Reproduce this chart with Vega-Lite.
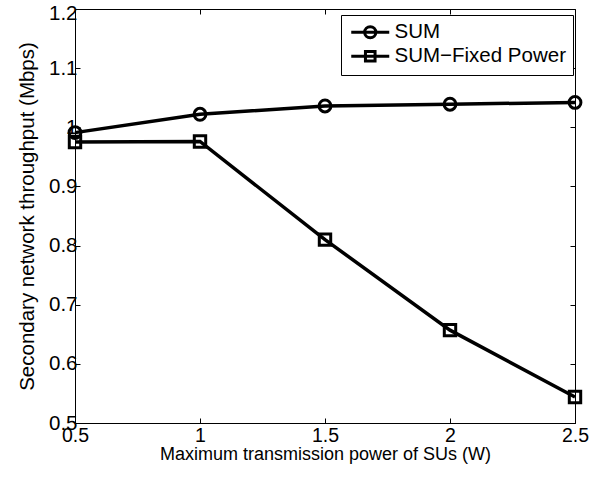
{
  "$schema": "https://vega.github.io/schema/vega-lite/v6.json",
  "width": 500,
  "height": 414,
  "autosize": "none",
  "padding": {"left": 75, "top": 9, "right": 30, "bottom": 55},
  "background": "white",
  "config": {
    "font": "Liberation Sans",
    "view": {"stroke": "black", "strokeWidth": 1},
    "axis": {"grid": false, "domainColor": "black", "tickColor": "black", "labelColor": "black", "titleColor": "black", "labelFont": "Liberation Sans", "titleFont": "Liberation Sans", "titleFontWeight": "normal", "labelFontSize": 18, "titleFontSize": 18, "tickSize": -5, "tickWidth": 1, "domainWidth": 1}
  },
  "data": {"values": [
    {"x": 0.5, "y": 0.991, "series": "SUM"},
    {"x": 1.0, "y": 1.022, "series": "SUM"},
    {"x": 1.5, "y": 1.036, "series": "SUM"},
    {"x": 2.0, "y": 1.039, "series": "SUM"},
    {"x": 2.5, "y": 1.042, "series": "SUM"},
    {"x": 0.5, "y": 0.975, "series": "SUM−Fixed Power"},
    {"x": 1.0, "y": 0.976, "series": "SUM−Fixed Power"},
    {"x": 1.5, "y": 0.810, "series": "SUM−Fixed Power"},
    {"x": 2.0, "y": 0.657, "series": "SUM−Fixed Power"},
    {"x": 2.5, "y": 0.544, "series": "SUM−Fixed Power"}
  ]},
  "resolve": {"axis": {"x": "independent", "y": "independent"}},
  "layer": [
    {
      "mark": {"type": "line", "color": "black", "strokeWidth": 3.5},
      "encoding": {
        "x": {"field": "x", "type": "quantitative", "scale": {"domain": [0.5, 2.5], "nice": false, "zero": false},
              "axis": {"orient": "bottom", "values": [0.5, 1, 1.5, 2, 2.5], "format": "~g", "labelFontSize": 19.5, "labelPadding": 8, "title": "Maximum transmission power of SUs (W)", "titlePadding": 1, "labelFlush": false}},
        "y": {"field": "y", "type": "quantitative", "scale": {"domain": [0.5, 1.2], "nice": false, "zero": false},
              "axis": {"orient": "left", "values": [0.5, 0.6, 0.7, 0.8, 0.9, 1.0, 1.1, 1.2], "format": "~g", "labelFontSize": 20.5, "labelPadding": 3,
                       "labelOffset": {"condition": {"test": "datum.value > 1.15", "value": 4}, "value": 0},
                       "title": "Secondary network throughput (Mbps)", "titlePadding": 11, "titleFontSize": 20.5, "labelFlush": false}},
        "detail": {"field": "series", "type": "nominal"}
      }
    },
    {
      "transform": [{"filter": "datum.series === 'SUM'"}],
      "mark": {"type": "point", "shape": "circle", "filled": false, "color": "black", "strokeWidth": 3, "size": 140, "opacity": 1},
      "encoding": {
        "x": {"field": "x", "type": "quantitative", "axis": {"orient": "top", "values": [0.5, 1, 1.5, 2, 2.5], "labels": false, "title": null, "domain": false}},
        "y": {"field": "y", "type": "quantitative", "axis": {"orient": "right", "values": [0.5, 0.6, 0.7, 0.8, 0.9, 1.0, 1.1, 1.2], "labels": false, "title": null, "domain": false}}
      }
    },
    {
      "transform": [{"filter": "datum.series !== 'SUM'"}],
      "mark": {"type": "point", "shape": "square", "filled": false, "color": "black", "strokeWidth": 3, "size": 130, "opacity": 1},
      "encoding": {
        "x": {"field": "x", "type": "quantitative", "axis": null},
        "y": {"field": "y", "type": "quantitative", "axis": null}
      }
    },
    {
      "mark": {"type": "point", "filled": false, "color": "black", "strokeWidth": 3, "opacity": 0},
      "encoding": {
        "x": {"field": "x", "type": "quantitative", "axis": null},
        "y": {"field": "y", "type": "quantitative", "axis": null},
        "shape": {"field": "series", "type": "nominal",
          "scale": {"range": ["M-2.375,0H2.375M-0.7,0A0.7,0.7,0,1,0,0.7,0A0.7,0.7,0,1,0,-0.7,0", "M-2.375,0H2.375M-0.6,-0.6H0.6V0.6H-0.6Z"]},
          "legend": {
            "title": null, "orient": "none", "legendX": 266, "legendY": 6,
            "strokeColor": "black", "fillColor": "white", "padding": 7,
            "labelFontSize": 20.5, "labelFont": "Liberation Sans", "labelColor": "black", "labelLimit": 400,
            "symbolSize": 256, "symbolStrokeWidth": 3, "symbolStrokeColor": "black", "symbolFillColor": "transparent", "symbolOpacity": 1,
            "symbolOffset": 12, "labelOffset": 14, "rowPadding": 1
          }}
      }
    }
  ]
}
